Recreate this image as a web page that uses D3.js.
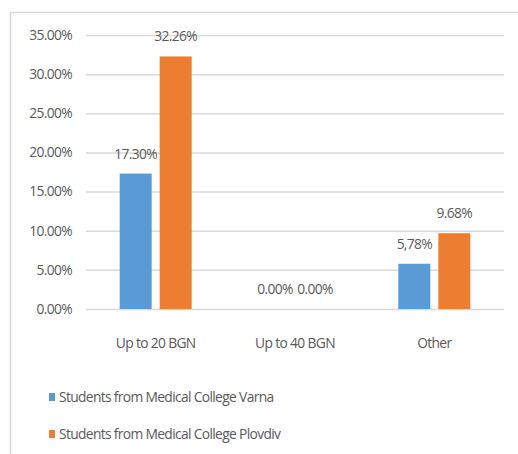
<html>
<head>
<script src="https://d3js.org/d3.v7.min.js"></script>
<style>
body { margin: 0; background: #fff; }
text { font-family: "Open Sans", Arial, sans-serif; fill: #595959; letter-spacing: -0.65px; }
</style>
</head>
<body>
<script>
var categories = ["Up to 20 BGN", "Up to 40 BGN", "Other"];
var seriesNames = ["Students from Medical College Varna", "Students from Medical College Plovdiv"];
var varna = [17.30, 0.00, 5.78];
var plovdiv = [32.26, 0.00, 9.68];
var varnaLabels = ["17.30%", "0.00%", "5,78%"];
var plovdivLabels = ["32.26%", "0.00%", "9.68%"];
var yTicks = [0, 5, 10, 15, 20, 25, 30, 35];
var colors = ["#5b9bd5", "#ed7d31"];

var width = 518, height = 454;
var svg = d3.select("body").append("svg").attr("width", width).attr("height", height);

// chart area border
svg.append("rect")
  .attr("x", 10.5).attr("y", 12.5)
  .attr("width", 530).attr("height", 460)
  .attr("fill", "none").attr("stroke", "#d9d9d9").attr("stroke-width", 1.5);

var y = d3.scaleLinear().domain([0, 35]).range([309, 35]);
var x = d3.scaleBand().domain(categories).range([86, 504]);
var x1 = d3.scaleBand().domain([0, 1]).range([-36, 36]).paddingInner(0.2);

// gridlines
svg.selectAll("line.grid")
  .data(yTicks)
  .enter().append("line")
    .attr("class", "grid")
    .attr("x1", 86).attr("x2", 504)
    .attr("y1", function(d) { return y(d) + 0.5; })
    .attr("y2", function(d) { return y(d) + 0.5; })
    .attr("stroke", "#d9d9d9").attr("stroke-width", 1.5);

// y tick labels
svg.selectAll("text.ytick")
  .data(yTicks)
  .enter().append("text")
    .attr("class", "ytick")
    .attr("x", 72)
    .attr("y", function(d) { return y(d); })
    .attr("dy", "0.35em")
    .attr("text-anchor", "end")
    .attr("font-size", 13.8)
    .text(function(d) { return d.toFixed(2) + "%"; });

var series = [varna, plovdiv];
var labels = [varnaLabels, plovdivLabels];

series.forEach(function(vals, s) {
  var g = svg.append("g");
  g.selectAll("rect")
    .data(vals)
    .enter().append("rect")
      .attr("x", function(d, i) { return x(categories[i]) + x.bandwidth() / 2 + x1(s); })
      .attr("y", function(d) { return y(d); })
      .attr("width", x1.bandwidth())
      .attr("height", function(d) { return y(0) - y(d); })
      .attr("fill", colors[s]);

  g.selectAll("text")
    .data(vals)
    .enter().append("text")
      .attr("x", function(d, i) { return x(categories[i]) + x.bandwidth() / 2 + x1(s) + x1.bandwidth() / 2; })
      .attr("y", function(d) { return y(d) - 15; })
      .attr("text-anchor", "middle")
      .attr("font-size", 13.8)
      .text(function(d, i) { return labels[s][i]; });
});

// category labels
svg.selectAll("text.cat")
  .data(categories)
  .enter().append("text")
    .attr("class", "cat")
    .attr("x", function(d) { return x(d) + x.bandwidth() / 2; })
    .attr("y", 348)
    .attr("text-anchor", "middle")
    .attr("font-size", 13.8)
    .text(function(d) { return d; });

// legend
var legend = svg.selectAll("g.legend")
  .data(seriesNames)
  .enter().append("g")
    .attr("class", "legend")
    .attr("transform", function(d, i) { return "translate(49," + (397 + i * 37) + ")"; });

legend.append("rect")
  .attr("x", 0).attr("y", -4)
  .attr("width", 6).attr("height", 8)
  .attr("fill", function(d, i) { return colors[i]; });

legend.append("text")
  .attr("x", 10)
  .attr("dy", "0.35em")
  .attr("font-size", 13.8)
  .text(function(d) { return d; });
</script>
</body>
</html>
